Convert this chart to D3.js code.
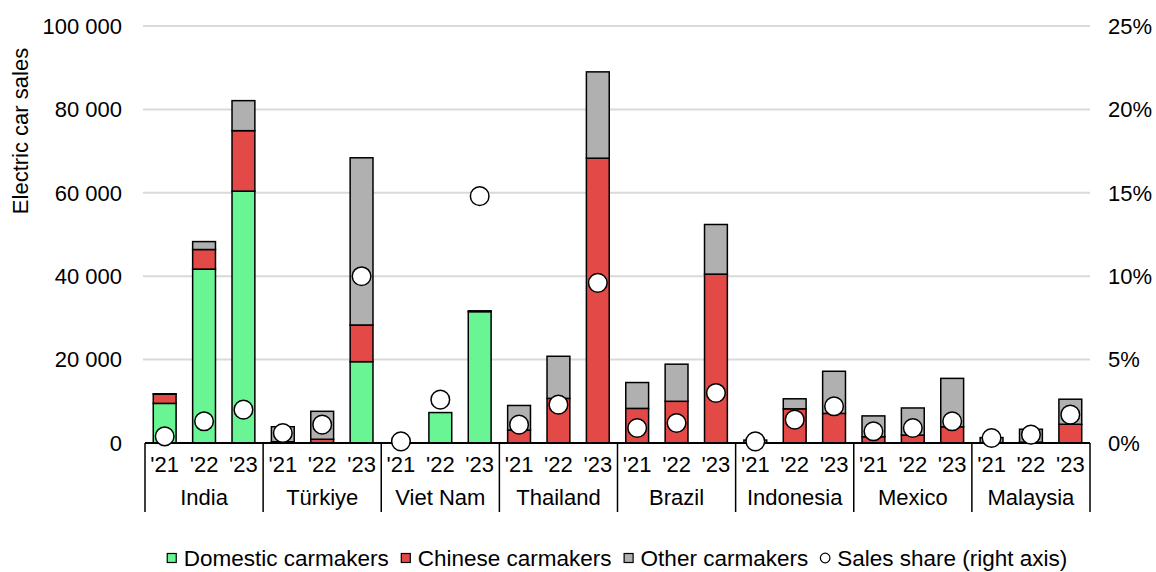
<!DOCTYPE html>
<html><head><meta charset="utf-8">
<script src="https://cdn.jsdelivr.net/npm/d3@7/dist/d3.min.js"></script>
<style>body{margin:0;background:#fff}svg{display:block;font-family:"Liberation Sans",Arial,sans-serif}</style>
</head><body><svg id="c" width="1156" height="572"></svg>
<script>
const countries = ["India","Türkiye","Viet Nam","Thailand","Brazil","Indonesia","Mexico","Malaysia"];
const years = ["'21","'22","'23"];
const domestic = [9500,41700,60400, 0,0,19500, 0,7300,31500, 0,0,0, 0,0,0, 0,0,0, 0,0,0, 0,0,0];
const chinese  = [2200,4700,14500, 300,900,8800, 0,0,0, 3100,10700,68300, 8300,10000,40500, 0,8200,7100, 1500,1900,3900, 100,200,4500];
const other    = [100,1900,7200, 3600,6700,40100, 0,0,200, 5900,10100,20700, 6200,8900,11900, 700,2400,10100, 5000,6500,11600, 1200,3100,6000];
const share    = [0.4,1.3,2.0, 0.6,1.1,10.0, 0.1,2.6,14.8, 1.1,2.3,9.6, 0.9,1.2,3.0, 0.1,1.4,2.2, 0.7,0.9,1.3, 0.3,0.5,1.7];
const leftTicks = [0,20000,40000,60000,80000,100000];
const rightTicks = [0,5,10,15,20,25];
const seriesNames = ["Domestic carmakers","Chinese carmakers","Other carmakers"];
const colors = ["#69f593","#e34a47","#b0b0b0"];

const svg = d3.select("#c");
const L = 145, R = 1090, T = 26, B = 443;
const FS = 22;
const y = d3.scaleLinear().domain([0,100000]).range([B,T]);
const y2 = d3.scaleLinear().domain([0,25]).range([B,T]);
const xg = d3.scaleBand().domain(countries).range([L,R]).padding(0);
const xi = d3.scaleBand().domain(years).range([0,xg.bandwidth()]).paddingInner(0.42).paddingOuter(0.21);

svg.append("g").selectAll("line").data(leftTicks.slice(1)).join("line")
  .attr("x1",L-2).attr("x2",R).attr("y1",d=>y(d)).attr("y2",d=>y(d))
  .attr("stroke","#d9d9d9").attr("stroke-width",2);

const fmt = d => d3.format(",")(d).replace(/,/g," ");
svg.append("g").selectAll("text").data(leftTicks).join("text")
  .attr("x",122).attr("y",d=>y(d)).attr("dy","0.35em").attr("text-anchor","end")
  .attr("font-size",FS).attr("fill","#000").text(fmt);
svg.append("g").selectAll("text").data(rightTicks).join("text")
  .attr("x",1108).attr("y",d=>y2(d)).attr("dy","0.35em").attr("text-anchor","start")
  .attr("font-size",FS).attr("fill","#000").text(d=>d+"%");
svg.append("text").attr("transform",`translate(28,131) rotate(-90)`)
  .attr("text-anchor","middle").attr("font-size",FS).text("Electric car sales");

const rows = [];
countries.forEach((c,ci)=>years.forEach((yr,yi)=>{
  const i = ci*3+yi;
  rows.push({c,yr,vals:[domestic[i],chinese[i],other[i]],share:share[i]});
}));
const segs = [];
rows.forEach(r=>{let acc=0;r.vals.forEach((v,k)=>{if(v>0)segs.push({c:r.c,yr:r.yr,y0:acc,y1:acc+v,k});acc+=v;});});

svg.append("g").selectAll("rect").data(segs).join("rect")
  .attr("x",d=>xg(d.c)+xi(d.yr)).attr("width",xi.bandwidth())
  .attr("y",d=>y(d.y1)).attr("height",d=>y(d.y0)-y(d.y1))
  .attr("fill",d=>colors[d.k]).attr("stroke","#000").attr("stroke-width",1.5);

svg.append("line").attr("x1",L).attr("x2",R).attr("y1",B).attr("y2",B).attr("stroke","#000").attr("stroke-width",2);
const bounds = countries.map(c=>xg(c)).concat([R]);
svg.append("g").selectAll("line").data(bounds).join("line")
  .attr("x1",d=>d).attr("x2",d=>d).attr("y1",B).attr("y2",512).attr("stroke","#000").attr("stroke-width",1.5);

svg.append("g").selectAll("circle").data(rows).join("circle")
  .attr("cx",d=>xg(d.c)+xi(d.yr)+xi.bandwidth()/2).attr("cy",d=>y2(d.share)).attr("r",9.3)
  .attr("fill","#fff").attr("stroke","#000").attr("stroke-width",1.5);

svg.append("g").selectAll("text").data(rows).join("text")
  .attr("x",d=>xg(d.c)+xi(d.yr)+xi.bandwidth()/2).attr("y",464).attr("dy","0.35em")
  .attr("text-anchor","middle").attr("font-size",FS).text(d=>d.yr);
svg.append("g").selectAll("text").data(countries).join("text")
  .attr("x",d=>xg(d)+xg.bandwidth()/2).attr("y",497).attr("dy","0.35em")
  .attr("text-anchor","middle").attr("font-size",FS).text(d=>d);

const lg = svg.append("g");
const items = seriesNames.map((n,k)=>({n,k})).concat([{n:"Sales share (right axis)",k:3}]);
let xx = 0;
const ly = 558;
const LFS = 22.5;
items.forEach(it=>{
  const g = lg.append("g").attr("transform",`translate(${xx},0)`);
  if(it.k<3) g.append("rect").attr("x",0.5).attr("y",ly-4.5).attr("width",9).attr("height",9)
      .attr("fill",colors[it.k]).attr("stroke","#000").attr("stroke-width",1.2);
  else g.append("circle").attr("cx",5).attr("cy",ly).attr("r",4.8).attr("fill","#fff").attr("stroke","#000").attr("stroke-width",1.2);
  const t = g.append("text").attr("x",17).attr("y",ly).attr("dy","0.35em").attr("font-size",LFS).text(it.n);
  xx += 17 + t.node().getComputedTextLength() + 12;
});
const lw = xx - 12;
lg.attr("transform",`translate(${617 - lw/2},0)`);
</script></body></html>
